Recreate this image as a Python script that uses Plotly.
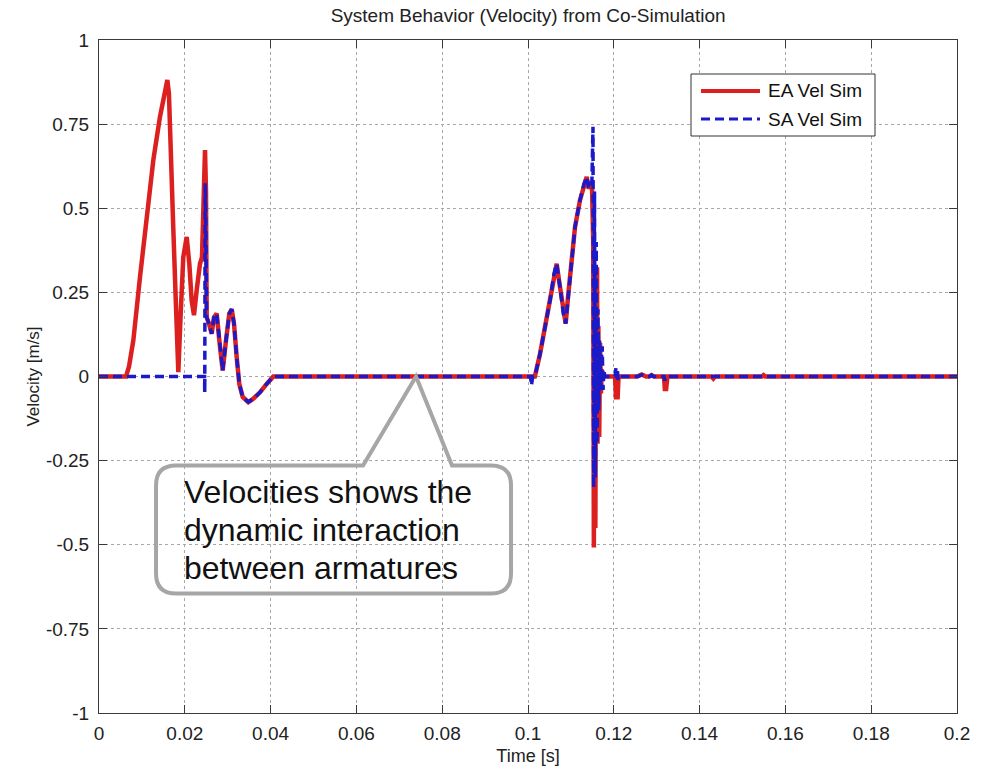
import plotly.graph_objects as go

# ---------------- data ----------------
# EA: first event (rise, main peak, second peak, spike at 0.025 s)
t_ea_start = [0.0, 0.0063, 0.0070, 0.0080, 0.00956, 0.01111, 0.01266, 0.01422, 0.01538, 0.01593,
              0.0163, 0.0166, 0.01733, 0.01795, 0.01849, 0.01904, 0.01965, 0.02044, 0.02105, 0.0216,
              0.02214, 0.02277, 0.02354, 0.02401, 0.02448, 0.02471, 0.02494]
v_ea_start = [0.0, 0.0, 0.03, 0.107, 0.296, 0.474, 0.643, 0.772, 0.851, 0.881,
              0.841, 0.70, 0.435, 0.206, 0.013, 0.187, 0.355, 0.415, 0.335, 0.226,
              0.182, 0.256, 0.335, 0.355, 0.514, 0.673, 0.55]

# SA: first event (idle, then impact at 0.025 s)
t_sa_start = [0.0, 0.0246, 0.02465, 0.02475, 0.0249]
v_sa_start = [0.0, 0.0, -0.047, 0.574, 0.45]

# shared motion after the impact (both armatures move together)
t_joint_1 = [0.0251, 0.02564, 0.02627, 0.0268, 0.02743, 0.02805, 0.02883, 0.0296, 0.03038, 0.03093,
             0.03147, 0.03209, 0.0327, 0.0335, 0.0348, 0.03598, 0.03753, 0.03909, 0.04063]
v_joint_1 = [0.176, 0.157, 0.127, 0.176, 0.187, 0.107, 0.018, 0.107, 0.187, 0.20,
             0.157, 0.058, -0.022, -0.061, -0.076, -0.066, -0.047, -0.022, 0.0]

# SA small dip before second event
t_sa_pre = [0.1006, 0.1008, 0.1011]
v_sa_pre = [0.0, -0.027, 0.0]

# shared second event (return stroke)
t_joint_2 = [0.1016, 0.1028, 0.10396, 0.10513, 0.10606, 0.10668, 0.10746, 0.10823, 0.10878, 0.1094,
             0.11018, 0.11096, 0.11212, 0.11305, 0.11368, 0.11415, 0.11462, 0.1149]
v_joint_2 = [0.0, 0.067, 0.147, 0.226, 0.306, 0.335, 0.266, 0.187, 0.157, 0.246,
             0.355, 0.444, 0.524, 0.573, 0.593, 0.558, 0.573, 0.58]

# EA bounce at the end stop
t_ea_spike = [0.1152, 0.11535, 0.1155, 0.1157, 0.1159, 0.1161, 0.1162, 0.1164, 0.1166, 0.1168,
              0.117, 0.1172, 0.1175]
v_ea_spike = [0.40, -0.508, 0.20, -0.45, 0.30, 0.325, -0.20, 0.15, -0.18, 0.10,
              -0.05, 0.02, 0.0]
t_ea_tail = [0.1203, 0.1205, 0.1209, 0.1211, 0.1255, 0.1265, 0.1275, 0.1283, 0.1288, 0.1293,
             0.1317, 0.1319, 0.1322, 0.1325, 0.1428, 0.1432, 0.1436, 0.1545, 0.1549, 0.1553, 0.2]
v_ea_tail = [0.0, -0.062, -0.062, 0.0, 0.0, 0.006, 0.0, 0.0, 0.004, 0.0,
             0.0, -0.037, -0.037, 0.0, 0.0, -0.006, 0.0, 0.0, 0.004, 0.0, 0.0]

# SA bounce at the end stop
t_sa_spike = [0.11515, 0.1153, 0.1155, 0.1157, 0.1159, 0.1161, 0.1163, 0.1165, 0.1167, 0.1169,
              0.1171, 0.1173, 0.1175, 0.1177, 0.1179]
v_sa_spike = [0.742, -0.33, 0.55, -0.30, 0.40, -0.20, 0.20, -0.10, 0.107, -0.04,
              0.05, 0.09, -0.04, 0.02, 0.0]
t_sa_tail = [0.1203, 0.1205, 0.1208, 0.121, 0.1212, 0.1255, 0.1265, 0.1275, 0.1283, 0.1288,
             0.1293, 0.1317, 0.1319, 0.1322, 0.2]
v_sa_tail = [0.0, 0.026, 0.026, -0.01, 0.0, 0.0, 0.005, 0.0, 0.0, 0.004,
             0.0, 0.0, -0.012, 0.0, 0.0]

x_tick_vals = [0, 0.02, 0.04, 0.06, 0.08, 0.1, 0.12, 0.14, 0.16, 0.18, 0.2]
x_tick_text = ["0", "0.02", "0.04", "0.06", "0.08", "0.1", "0.12", "0.14", "0.16", "0.18", "0.2"]
y_tick_vals = [1, 0.75, 0.5, 0.25, 0, -0.25, -0.5, -0.75, -1]
y_tick_text = ["1", "0.75", "0.5", "0.25", "0", "-0.25", "-0.5", "-0.75", "-1"]

series_names = ["EA Vel Sim", "SA Vel Sim"]
callout_lines = ["Velocities shows the", "dynamic interaction", "between armatures"]

# ---------------- assemble series ----------------
t_ea = t_ea_start + t_joint_1 + t_joint_2 + t_ea_spike + t_ea_tail
v_ea = v_ea_start + v_joint_1 + v_joint_2 + v_ea_spike + v_ea_tail
t_sa = t_sa_start + t_joint_1 + t_sa_pre + t_joint_2 + t_sa_spike + t_sa_tail
v_sa = v_sa_start + v_joint_1 + v_sa_pre + v_joint_2 + v_sa_spike + v_sa_tail

FONT = "Liberation Sans, Arial, sans-serif"
RED = "#dc1f1f"
BLUE = "#1a1ac8"
COLORS = [RED, BLUE]
WIDTHS = [4.5, 3.5]
DASHES = ["solid", "9px,5px"]

fig = go.Figure()
fig.add_trace(go.Scatter(x=t_ea, y=v_ea, mode="lines", name=series_names[0], showlegend=False,
                         line=dict(color=COLORS[0], width=WIDTHS[0], dash=DASHES[0])))
fig.add_trace(go.Scatter(x=t_sa, y=v_sa, mode="lines", name=series_names[1], showlegend=False,
                         line=dict(color=COLORS[1], width=WIDTHS[1], dash=DASHES[1])))

axis_common = dict(
    showline=True, linecolor="#3a3a3a", linewidth=1, mirror="ticks",
    ticks="inside", ticklen=8, tickcolor="#3a3a3a", tickwidth=1,
    showgrid=True, gridcolor="#a8a8a8", gridwidth=1, griddash="dot",
    zeroline=False, automargin=False, tickfont=dict(family=FONT, size=19, color="#222222"),
)

fig.update_xaxes(range=[0, 0.2], tickvals=x_tick_vals, ticktext=x_tick_text,
                 title=dict(text="Time [s]", font=dict(family=FONT, size=18, color="#222222"), standoff=6),
                 ticklabelstandoff=3, **axis_common)
fig.update_yaxes(range=[-1, 1], tickvals=y_tick_vals, ticktext=y_tick_text,
                 title=dict(text="Velocity [m/s]", font=dict(family=FONT, size=17, color="#222222"), standoff=1),
                 ticklabelstandoff=5, **axis_common)

# ---------------- manual legend (MATLAB style, long line samples) ----------------
def px_x(p):
    return (p - 99) / 858.0

def px_y(p):
    return (713 - p) / 673.0

fig.add_shape(type="rect", xref="paper", yref="paper",
              x0=px_x(691), x1=px_x(875), y0=px_y(136), y1=px_y(74),
              line=dict(color="#333333", width=1), fillcolor="white", layer="above")
legend_rows = [91, 119]
for i, name in enumerate(series_names):
    fig.add_shape(type="line", xref="paper", yref="paper",
                  x0=px_x(701), x1=px_x(760), y0=px_y(legend_rows[i]), y1=px_y(legend_rows[i]),
                  line=dict(color=COLORS[i], width=WIDTHS[i] - 0.5, dash=DASHES[i]), layer="above")
    fig.add_annotation(xref="paper", yref="paper", x=px_x(766), y=px_y(legend_rows[i]),
                       text=name, showarrow=False, xanchor="left", yanchor="middle",
                       font=dict(family=FONT, size=19, color="#111111"))

# ---------------- callout bubble, anchored at the data point it points to ----------------
apex_t, apex_v = 0.0739, 0.0
fig.add_shape(type="path", xref="x", yref="y", xsizemode="pixel", ysizemode="pixel",
              xanchor=apex_t, yanchor=apex_v,
              path=("M 0,0 L -53,-89 L -240,-89 Q -260,-89 -260,-109 L -260,-197 "
                    "Q -260,-217 -240,-217 L 75,-217 Q 95,-217 95,-197 L 95,-109 "
                    "Q 95,-89 75,-89 L 36,-89 Z"),
              line=dict(color="#a6a6a6", width=4), fillcolor="rgba(0,0,0,0)", layer="above")
line_shifts = [-115, -153, -191]
for txt, ys in zip(callout_lines, line_shifts):
    fig.add_annotation(x=apex_t, y=apex_v, xref="x", yref="y", text=txt, showarrow=False,
                       xanchor="left", yanchor="middle", align="left", xshift=-234, yshift=ys,
                       font=dict(family=FONT, size=32, color="#111111"))

fig.update_layout(
    width=989, height=769,
    margin=dict(l=99, r=32, t=40, b=56, autoexpand=False),
    paper_bgcolor="white", plot_bgcolor="white",
    title=dict(text="System Behavior (Velocity) from Co-Simulation", x=0.534, xanchor="center",
               y=0.98, yanchor="middle", font=dict(family=FONT, size=19, color="#222222")),
    showlegend=False,
)

fig.write_html("out.html")
